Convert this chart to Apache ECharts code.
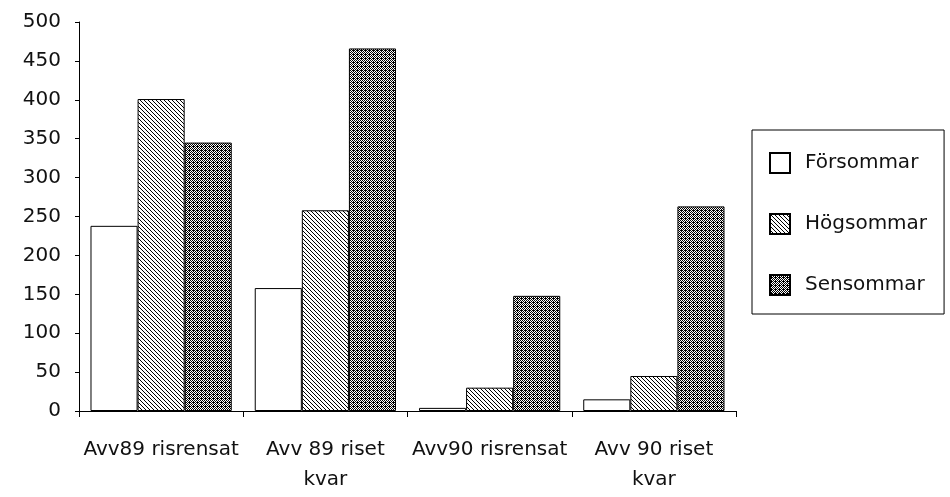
<!DOCTYPE html>
<html>
<head>
<meta charset="utf-8">
<script src="https://cdn.jsdelivr.net/npm/echarts@6/dist/echarts.min.js"></script>
<style>
html,body{margin:0;padding:0;background:#fff;}
#chart{width:950px;height:497px;}
</style>
</head>
<body>
<div id="chart"></div>
<script>
var categories = ['Avv89 risrensat', 'Avv 89 riset\nkvar', 'Avv90 risrensat', 'Avv 90 riset\nkvar'];
var seriesNames = ['Försommar', 'Högsommar', 'Sensommar'];
var forsommar = [238, 158, 4, 15];
var hogsommar = [401, 258, 30, 45];
var sensommar = [345, 466, 148, 263];
var yTicks = [0, 50, 100, 150, 200, 250, 300, 350, 400, 450, 500];

function makeHatch() {
  var c = document.createElement('canvas');
  c.width = 8; c.height = 8;
  var ctx = c.getContext('2d');
  ctx.fillStyle = '#fff'; ctx.fillRect(0, 0, 8, 8);
  ctx.fillStyle = '#000';
  for (var y = 0; y < 8; y++) {
    for (var x = 0; x < 8; x++) {
      var d = ((x - y) % 4 + 4) % 4;
      if (d === 0 || (d === 1 && (x + y) % 4 === 0)) ctx.fillRect(x, y, 1, 1);
    }
  }
  return c;
}
function makeChecker() {
  var c = document.createElement('canvas');
  c.width = 4; c.height = 4;
  var ctx = c.getContext('2d');
  ctx.fillStyle = '#fff'; ctx.fillRect(0, 0, 4, 4);
  ctx.fillStyle = '#000';
  for (var y = 0; y < 4; y++) {
    for (var x = 0; x < 4; x++) {
      if ((x + y) % 2 === 0) ctx.fillRect(x, y, 1, 1);
    }
  }
  ctx.fillRect(1, 2, 1, 1);
  return c;
}

var fills = [
  '#ffffff',
  { image: makeHatch(), repeat: 'repeat' },
  { image: makeChecker(), repeat: 'repeat' }
];
var dataSets = [forsommar, hogsommar, sensommar];

var FONT = 'DejaVu Sans';
var chart = echarts.init(document.getElementById('chart'), null, { renderer: 'canvas' });
chart.setOption({
  animation: false,
  backgroundColor: '#fff',
  textStyle: { fontFamily: FONT },
  grid: { left: 79, right: 214, top: 22, bottom: 86 },
  legend: {
    orient: 'vertical',
    left: 752,
    top: 130,
    padding: [22, 17, 18, 17],
    itemGap: 39,
    itemWidth: 20,
    itemHeight: 20,
    icon: 'rect',
    borderColor: '#000',
    borderWidth: 1,
    textStyle: { fontFamily: FONT, fontSize: 20, color: '#111', padding: [0, 0, 0, 10] },
    data: seriesNames
  },
  xAxis: {
    type: 'category',
    data: categories,
    axisLine: { lineStyle: { color: '#000', width: 1 } },
    axisTick: { show: true, length: 6, alignWithLabel: false, lineStyle: { color: '#000' } },
    axisLabel: { interval: 0, color: '#111', fontFamily: FONT, fontSize: 20, lineHeight: 30, margin: 24 }
  },
  yAxis: {
    type: 'value',
    min: yTicks[0],
    max: yTicks[yTicks.length - 1],
    interval: 50,
    splitLine: { show: false },
    axisLine: { show: true, lineStyle: { color: '#000', width: 1 } },
    axisTick: { show: true, length: 4, lineStyle: { color: '#000' } },
    axisLabel: { color: '#111', fontFamily: FONT, fontSize: 20, margin: 18 }
  },
  series: seriesNames.map(function (name, i) {
    return {
      name: name,
      type: 'bar',
      data: dataSets[i],
      barGap: '0%',
      barCategoryGap: '14%',
      itemStyle: { color: fills[i], borderColor: '#000', borderWidth: 1 }
    };
  })
});
</script>
</body>
</html>
